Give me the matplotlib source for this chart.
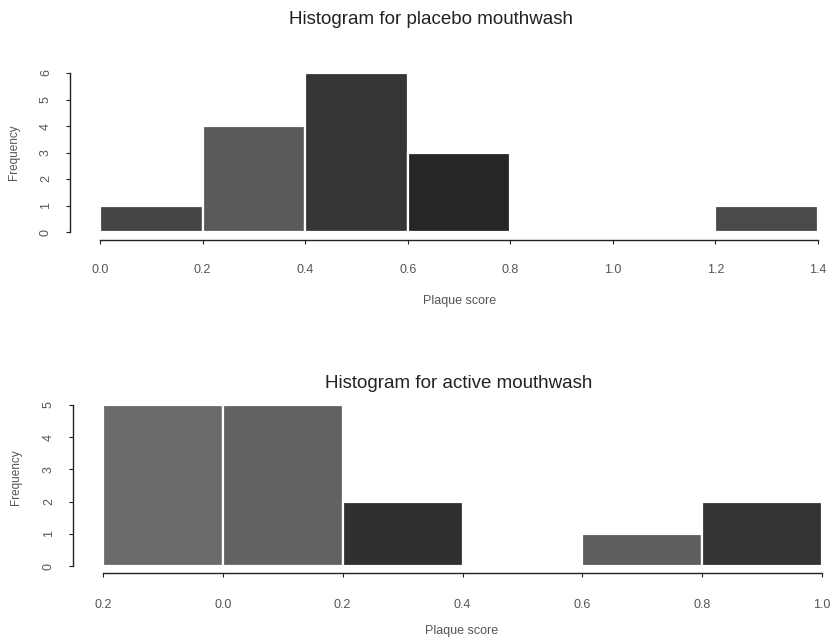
import matplotlib
matplotlib.use("Agg")
import matplotlib.pyplot as plt
import numpy as np

plt.rcParams["font.family"] = ["Liberation Sans", "DejaVu Sans"]

# ---- data ----
placebo_edges = [0.0, 0.2, 0.4, 0.6, 0.8, 1.0, 1.2, 1.4]
placebo_counts = [1, 4, 6, 3, 0, 0, 1]
placebo_xticks = [0.0, 0.2, 0.4, 0.6, 0.8, 1.0, 1.2, 1.4]
placebo_xlabels = ["0.0", "0.2", "0.4", "0.6", "0.8", "1.0", "1.2", "1.4"]
placebo_yticks = [0, 1, 2, 3, 4, 5, 6]

active_edges = [-0.2, 0.0, 0.2, 0.4, 0.6, 0.8, 1.0]
active_counts = [5, 5, 2, 0, 1, 2]
active_xticks = [-0.2, 0.0, 0.2, 0.4, 0.6, 0.8, 1.0]
active_xlabels = ["0.2", "0.0", "0.2", "0.4", "0.6", "0.8", "1.0"]
active_yticks = [0, 1, 2, 3, 4, 5]

titles = ["Histogram for placebo mouthwash", "Histogram for active mouthwash"]
xlabel = "Plaque score"
ylabel = "Frequency"

# ---- style ----
placebo_colors = ["#454545", "#5a5a5a", "#363636", "#262626", "#444", "#444", "#4a4a4a"]
active_colors = ["#6a6a6a", "#626262", "#303030", "#444", "#5e5e5e", "#333333"]

W, H = 835, 639
fig = plt.figure(figsize=(W / 100, H / 100), dpi=100)
fig.patch.set_facecolor("white")


def make_axes(px_left, px_right, px_top, px_bottom):
    return fig.add_axes([px_left / W, 1 - px_bottom / H,
                         (px_right - px_left) / W, (px_bottom - px_top) / H])


def style(ax, edges, counts, colors, xticks, xlabels, yticks, xlim, ylim,
          yspine_x, xspine_y, title, title_x, title_y, xlabel_x, xlabel_y, xpad):
    ax.set_xlim(*xlim)
    ax.set_ylim(*ylim)
    lefts = edges[:-1]
    ax.bar(lefts, counts, width=np.diff(edges), align="edge",
           color=colors, edgecolor="white", linewidth=1.6, zorder=2)
    for s in ["top", "right"]:
        ax.spines[s].set_visible(False)
    ax.spines["left"].set_position(("data", yspine_x))
    ax.spines["bottom"].set_position(("data", xspine_y))
    ax.spines["left"].set_bounds(yticks[0], yticks[-1])
    ax.spines["bottom"].set_bounds(xticks[0], xticks[-1])
    for s in ["left", "bottom"]:
        ax.spines[s].set_linewidth(1.0)
        ax.spines[s].set_color("#222222")
    ax.set_xticks(xticks)
    ax.set_xticklabels(xlabels)
    ax.set_yticks(yticks)
    ax.set_yticklabels([str(v) for v in yticks], rotation=90, va="center")
    ax.tick_params(axis="x", length=3, pad=xpad, labelsize=9, colors="#222222",
                   labelcolor="#555555")
    ax.tick_params(axis="y", length=3, pad=10, labelsize=9, colors="#222222",
                   labelcolor="#555555")
    ax.set_facecolor("none")
    fig.text(title_x / W, 1 - title_y / H, title, ha="center", va="center",
             fontsize=13.5, color="#222222")
    fig.text(xlabel_x / W, 1 - xlabel_y / H, xlabel, ha="center", va="center",
             fontsize=9, color="#555555")


# top panel: x 0 -> px100, 1.4 -> px818 ; y 0 -> px232, 6 -> px73
ax1 = make_axes(60, 830, 60, 245)
sx1 = (818 - 100) / 1.4
sy1 = (232 - 73) / 6.0
xlim1 = ((60 - 100) / sx1, 1.4 + (830 - 818) / sx1)
ylim1 = (-(245 - 232) / sy1, (232 - 60) / sy1)
style(ax1, placebo_edges, placebo_counts, placebo_colors, placebo_xticks,
      placebo_xlabels, placebo_yticks, xlim1, ylim1,
      yspine_x=(70 - 100) / sx1, xspine_y=-(240 - 232) / sy1,
      title=titles[0], title_x=431, title_y=20, xlabel_x=460, xlabel_y=301,
      xpad=14)
fig.text(14 / W, 1 - 152 / H, ylabel, rotation=90, ha="center", va="center",
         fontsize=8.5, color="#555555")

# bottom panel: x -0.2 -> px103, 1.0 -> px822 ; y 0 -> px566, 5 -> px405
ax2 = make_axes(60, 835, 395, 580)
sx2 = (822 - 103) / 1.2
sy2 = (566 - 405) / 5.0
xlim2 = (-0.2 + (60 - 103) / sx2, 1.0 + (835 - 822) / sx2)
ylim2 = (-(580 - 566) / sy2, (566 - 395) / sy2)
style(ax2, active_edges, active_counts, active_colors, active_xticks,
      active_xlabels, active_yticks, xlim2, ylim2,
      yspine_x=-0.2 + (73 - 103) / sx2, xspine_y=-(573 - 566) / sy2,
      title=titles[1], title_x=459, title_y=383, xlabel_x=462, xlabel_y=631,
      xpad=16)
fig.text(16 / W, 1 - 477 / H, ylabel, rotation=90, ha="center", va="center",
         fontsize=8.5, color="#555555")

fig.savefig("out.png", dpi=100, facecolor="white")
